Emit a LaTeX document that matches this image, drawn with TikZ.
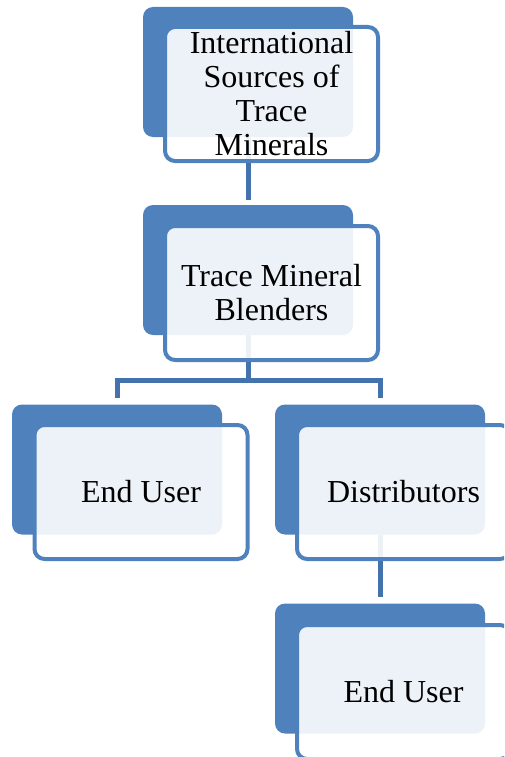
\documentclass[tikz,border=0pt]{standalone}
\usepackage{fontspec}
\setmainfont{Liberation Serif}
\newfontfamily\tnr{Liberation Serif}
\definecolor{accent}{RGB}{79,129,189}
\definecolor{connc}{RGB}{68,114,172}
\tikzset{
  backbox/.style={fill=accent, rounded corners=10pt, minimum width=210pt, minimum height=130pt, inner sep=0pt},
  frontbox/.style={draw=accent, line width=4pt, fill=white, fill opacity=0.9, text opacity=1, rounded corners=10pt,
     minimum width=213pt, minimum height=134pt, inner sep=0pt, align=center, text=black,
     font=\tnr\fontsize{32}{34}\selectfont},
  conn/.style={draw=connc, line width=5pt}
}
\begin{document}
\begin{tikzpicture}[x=1pt,y=-1pt]
\useasboundingbox (0,0) rectangle (504,757);
\clip (0,0) rectangle (504,757);
% back boxes (positions)
\path (248,72) coordinate (c1) (248,270) coordinate (c2) (117,469.5) coordinate (c3)
      (380,469.5) coordinate (c4) (380,668.5) coordinate (c5);
\node[backbox] (b1) at (c1) {};
\node[backbox] (b2) at (c2) {};
\node[backbox] (b3) at (c3) {};
\node[backbox] (b4) at (c4) {};
\node[backbox] (b5) at (c5) {};
% connectors
\coordinate (j) at (248,380);
\draw[conn, shorten >=5pt] (b1.south) -- (b2.north);
\draw[conn] (b2.south) -- (j);
\draw[conn, shorten <=6pt] (b3.north) |- (j);
\draw[conn, shorten >=6pt] (j) -| (b4.north);
\draw[conn, shorten >=6pt] (b4.south) -- (b5.north);
% front boxes
\node[frontbox] (f1) at (271.5,94) {International\\Sources of\\Trace\\Minerals};
\node[frontbox] (f2) at (271.5,293) {Trace Mineral\\Blenders};
\node[frontbox] (f3) at (141,492) {End User};
\node[frontbox] (f4) at (403.5,492) {Distributors};
\node[frontbox] (f5) at (403.5,692) {End User};
\end{tikzpicture}
\end{document}
